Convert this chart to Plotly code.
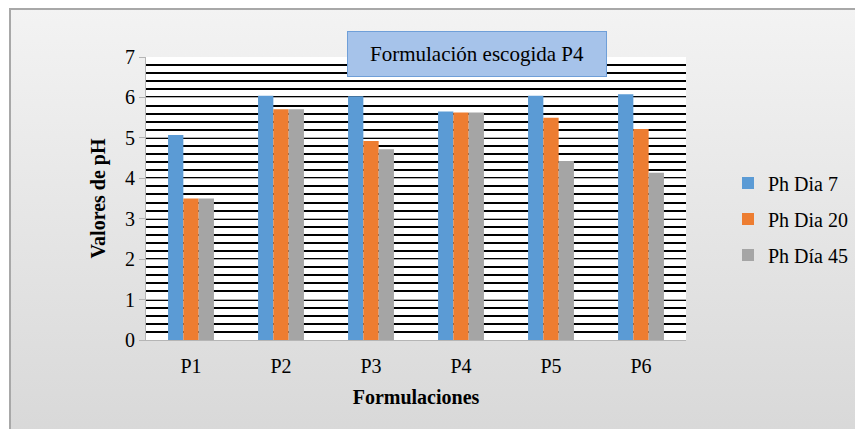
import base64
import plotly.graph_objects as go

categories = ["P1", "P2", "P3", "P4", "P5", "P6"]
ph_dia7 = [5.07, 6.04, 6.03, 5.65, 6.04, 6.08]
ph_dia20 = [3.50, 5.71, 4.92, 5.63, 5.50, 5.22]
ph_dia45 = [3.50, 5.71, 4.72, 5.63, 4.43, 4.14]
series_names = ["Ph Dia 7", "Ph Dia 20", "Ph Día 45"]
y_ticks = [0, 1, 2, 3, 4, 5, 6, 7]

colors = ["#5b9bd5", "#ed7d31", "#a5a5a5"]
FONT = "Times New Roman"

fig = go.Figure()
for name, vals, col, grp in zip(series_names, [ph_dia7, ph_dia20, ph_dia45], colors, ["a", "b", "c"]):
    fig.add_trace(go.Bar(x=categories, y=vals, name=name, marker_color=col,
                         marker_line_width=0, legendgroup=grp))

# page body has an 8px margin; the figure is placed at (8, 8)
OFF = 8
W, H = 863 - OFF, 429 - OFF
L, R, T, B = 146 - OFF, 686 - OFF, 57 - OFF, 340 - OFF
pw, ph = R - L, B - T

def px_x(p):
    return (p - OFF - L) / pw

def px_y(p):
    return (B - (p - OFF)) / ph

svg = ('<svg xmlns="http://www.w3.org/2000/svg" width="100" height="100" viewBox="0 0 100 100" '
       'preserveAspectRatio="none"><defs><linearGradient id="g" x1="0" y1="0" x2="0" y2="1">'
       '<stop offset="0" stop-color="#f3f3f3"/><stop offset="1" stop-color="#d8d8d8"/>'
       '</linearGradient></defs><rect width="100" height="100" fill="url(#g)"/></svg>')
uri = "data:image/svg+xml;base64," + base64.b64encode(svg.encode()).decode()

fig.add_layout_image(dict(source=uri, xref="paper", yref="paper",
                          x=px_x(10), y=px_y(8), sizex=px_x(880) - px_x(10),
                          sizey=px_y(8) - px_y(440), xanchor="left", yanchor="top",
                          sizing="stretch", layer="below"))

fig.add_shape(type="rect", xref="paper", yref="paper", x0=px_x(10), x1=px_x(880),
              y0=px_y(440), y1=px_y(9), line=dict(color="#a8a8a8", width=2),
              fillcolor="rgba(0,0,0,0)", layer="below")
fig.add_shape(type="rect", xref="paper", yref="paper", x0=0, x1=1, y0=0, y1=1,
              line=dict(width=0), fillcolor="white", layer="below")

fig.add_annotation(xref="paper", yref="paper", x=px_x(477), y=px_y(54.5),
                   text="Formulación escogida P4", showarrow=False,
                   font=dict(family=FONT, size=21, color="black"),
                   width=256, height=42, bgcolor="#a6c3ea", bordercolor="#6f9fd8",
                   borderwidth=1, xanchor="center", yanchor="middle")

fig.update_layout(
    width=W, height=H,
    margin=dict(l=L, r=W - R, t=T, b=H - B, autoexpand=False),
    paper_bgcolor="white", plot_bgcolor="white",
    barmode="group", bargap=0.49, bargroupgap=0,
    font=dict(family=FONT, size=20, color="black"),
    showlegend=True,
    legend=dict(x=px_x(728), y=px_y(219), xanchor="left", yanchor="middle",
                bgcolor="rgba(0,0,0,0)", font=dict(family=FONT, size=20),
                tracegroupgap=7, traceorder="grouped"),
    xaxis=dict(showgrid=False, showline=True, linecolor="#b5b5b5", linewidth=1,
               ticks="", tickfont=dict(family=FONT, size=20), ticklabelstandoff=8,
               title=dict(text="<b>Formulaciones</b>", font=dict(family=FONT, size=20), standoff=13)),
    yaxis=dict(range=[0, 7], tickvals=y_ticks, showgrid=True, gridcolor="#b0b0b0", gridwidth=1,
               showline=True, linecolor="#b5b5b5", linewidth=1, ticks="outside", ticklen=6,
               tickcolor="#b5b5b5", tickfont=dict(family=FONT, size=20), zeroline=False,
               minor=dict(dtick=0.2, showgrid=True, gridcolor="black", gridwidth=1.5),
               title=dict(text="<b>Valores de pH</b>", font=dict(family=FONT, size=20), standoff=14)),
)

fig.write_html("out.html")
